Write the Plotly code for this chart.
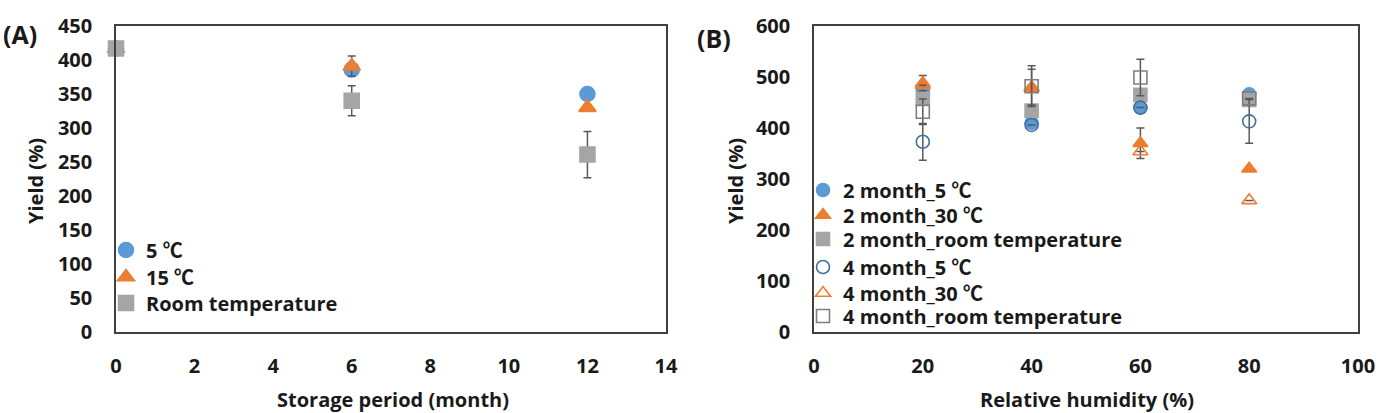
import plotly.graph_objects as go

# ---------------- Data: panel A ----------------
months = [0, 6, 12]
a_5c = [417, 386, 350]
a_5c_err = [0, 0, 0]
a_15c = [417, 391, 330]
a_15c_err = [0, 15, 0]
a_room = [417, 340, 261]
a_room_err = [0, 22, 34]

# ---------------- Data: panel B ----------------
rh = [20, 40, 60, 80]
b2_5c = [474, 410, 440, 466]
b2_5c_err = [0, 0, 0, 0]
b2_30c = [488, 478, 370, 320]
b2_30c_err = [15, 0, 30, 0]
b2_room = [457, 434, 465, 455]
b2_room_err = [0, 0, 0, 0]
b4_5c = [373, 406, 440, 413]
b4_5c_err = [36, 0, 0, 43]
b4_30c = [484, 480, 354, 258]
b4_30c_err = [0, 35, 0, 0]
b4_room = [432, 482, 499, 458]
b4_room_err = [25, 40, 36, 0]

BLUE = "#5B9BD5"
ORANGE = "#ED7D31"
GREY = "#A5A5A5"
DARKBLUE = "#41719C"
DARKGREY = "#7F7F7F"
ERRC = "#595959"
FONT = "Open Sans, Noto Sans CJK KR, sans-serif"
TXT = "#1a1a1a"

W, H = 1383, 413


def px(v):
    return v / W


def py(v):
    return 1 - v / H


fig = go.Figure()
legends = {}


def add(x, y, err, name, symbol, color, size, xa, ya, leg_x, leg_y, leg_font):
    idx = len(fig.data) + 1
    key = "legend" if idx == 1 else f"legend{idx}"
    fig.add_trace(go.Scatter(
        x=x, y=y, mode="markers", name=name,
        marker=dict(symbol=symbol, size=size, color=color,
                    line=dict(color=color, width=1.6)),
        error_y=dict(type="data", array=err, visible=True, color=ERRC,
                     thickness=1.5, width=4),
        legend=key, xaxis=xa, yaxis=ya, cliponaxis=False,
    ))
    legends[key] = dict(x=px(leg_x), y=py(leg_y), xanchor="left", yanchor="middle",
                        bgcolor="rgba(0,0,0,0)", itemwidth=30,
                        font=dict(family=FONT, size=leg_font, color=TXT, weight="bold"))


LA_X = 106
LB_X = 803
add(months, a_5c, a_5c_err, "5 ℃", "circle", BLUE, 15, "x", "y", LA_X, 250, 20)
add(months, a_15c, a_15c_err, "15 ℃", "triangle-up", ORANGE, 15, "x", "y", LA_X, 277, 20)
add(months, a_room, a_room_err, "Room temperature", "square", GREY, 15, "x", "y", LA_X, 303, 20)

add(rh, b2_5c, b2_5c_err, "2 month_5 ℃", "circle", BLUE, 13, "x2", "y2", LB_X, 190, 20)
add(rh, b2_30c, b2_30c_err, "2 month_30 ℃", "triangle-up", ORANGE, 13, "x2", "y2", LB_X, 215, 20)
add(rh, b2_room, b2_room_err, "2 month_room temperature", "square", GREY, 13, "x2", "y2", LB_X, 239, 20)
add(rh, b4_5c, b4_5c_err, "4 month_5 ℃", "circle-open", DARKBLUE, 13, "x2", "y2", LB_X, 267, 20)
add(rh, b4_30c, b4_30c_err, "4 month_30 ℃", "triangle-up-open", ORANGE, 13, "x2", "y2", LB_X, 293, 20)
add(rh, b4_room, b4_room_err, "4 month_room temperature", "square-open", DARKGREY, 13, "x2", "y2", LB_X, 316, 20)

axis_common = dict(showgrid=False, zeroline=False, showline=True, mirror=True,
                   linecolor="#404040", linewidth=1.5, ticks="", automargin=False,
                   tickfont=dict(family=FONT, size=20, color=TXT, weight="bold"))

fig.update_layout(
    width=W, height=H, margin=dict(l=0, r=0, t=0, b=0, autoexpand=False),
    paper_bgcolor="white", plot_bgcolor="white",
    font=dict(family=FONT, color=TXT),
    xaxis=dict(domain=[px(116), px(666)], range=[0, 14], dtick=2,
               ticklabelstandoff=15, anchor="y", **axis_common),
    yaxis=dict(domain=[py(332), py(26)], range=[0, 450], dtick=50,
               ticklabelstandoff=18, anchor="x", **axis_common),
    xaxis2=dict(domain=[px(814), px(1358)], range=[0, 100], dtick=20,
                ticklabelstandoff=15, anchor="y2", **axis_common),
    yaxis2=dict(domain=[py(332), py(26)], range=[0, 600], dtick=100,
                ticklabelstandoff=18, anchor="x2", **axis_common),
    showlegend=True,
    **legends,
)

ann_font = dict(family=FONT, size=20, color=TXT, weight="bold")
common = dict(xref="paper", yref="paper", showarrow=False, xanchor="center", yanchor="middle")
fig.add_annotation(text="Yield (%)", x=px(35), y=py(181), textangle=-90, font=ann_font, **common)
fig.add_annotation(text="Yield (%)", x=px(735), y=py(181), textangle=-90, font=ann_font, **common)
fig.add_annotation(text="Storage period (month)", x=px(393), y=py(399), font=ann_font, **common)
fig.add_annotation(text="Relative humidity (%)", x=px(1087), y=py(399), font=ann_font, **common)
fig.add_annotation(text="(A)", x=px(20), y=py(34),
                   font=dict(family=FONT, size=25, color=TXT, weight="bold"), **common)
fig.add_annotation(text="(B)", x=px(714), y=py(38),
                   font=dict(family=FONT, size=25, color=TXT, weight="bold"), **common)

fig.write_html("out.html")
